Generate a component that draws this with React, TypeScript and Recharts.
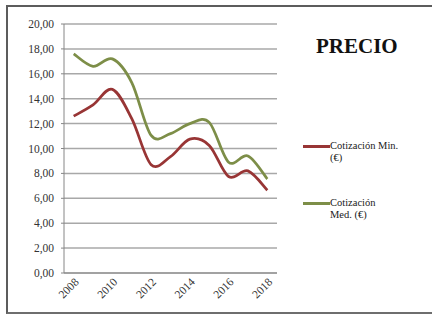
import { LineChart, Line, XAxis, YAxis, CartesianGrid, Legend } from 'recharts';

const years = [2008, 2009, 2010, 2011, 2012, 2013, 2014, 2015, 2016, 2017, 2018];
const minValues = [12.6, 13.5, 14.75, 12.4, 8.7, 9.35, 10.75, 10.25, 7.75, 8.2, 6.65];
const medValues = [17.6, 16.6, 17.2, 15.3, 11.05, 11.2, 12.0, 12.1, 8.9, 9.4, 7.55];
const yTicks = [0, 2, 4, 6, 8, 10, 12, 14, 16, 18, 20];
const labelYears = [2008, 2010, 2012, 2014, 2016, 2018];
const boundaryTicks = [2007.5, 2008.5, 2009.5, 2010.5, 2011.5, 2012.5, 2013.5, 2014.5, 2015.5, 2016.5, 2017.5, 2018.5];
const legendOrder = ['min', 'med'];
const legendLines: Record<string, string[]> = {
  min: ['Cotización Min.', '(€)'],
  med: ['Cotización', 'Med. (€)'],
};

const data = years.map((year, i) => ({ year, min: minValues[i], med: medValues[i] }));

const FONT = '"Liberation Serif", "Times New Roman", serif';

// smooth line like the spreadsheet one (catmull-rom through the points)
const smooth = (context: any) => {
  let pts: number[][] = [];
  return {
    areaStart() {},
    areaEnd() {},
    lineStart() {
      pts = [];
    },
    point(x: number, y: number) {
      pts.push([+x, +y]);
    },
    lineEnd() {
      const n = pts.length;
      if (!n) return;
      context.moveTo(pts[0][0], pts[0][1]);
      for (let i = 0; i < n - 1; i++) {
        const p0 = pts[Math.max(i - 1, 0)];
        const p1 = pts[i];
        const p2 = pts[i + 1];
        const p3 = pts[Math.min(i + 2, n - 1)];
        context.bezierCurveTo(
          p1[0] + (p2[0] - p0[0]) / 6,
          p1[1] + (p2[1] - p0[1]) / 6,
          p2[0] - (p3[0] - p1[0]) / 6,
          p2[1] - (p3[1] - p1[1]) / 6,
          p2[0],
          p2[1]
        );
      }
    },
  };
};

const fmt = (v: number) => v.toFixed(2).replace('.', ',');

const renderLegend = (props: any) => {
  const items = legendOrder
    .map((k) => props.payload.find((p: any) => p.dataKey === k))
    .filter(Boolean);
  return (
    <div style={{ fontFamily: FONT, fontSize: 10.5, color: '#1a1a1a' }}>
      {items.map((entry: any) => (
        <div key={entry.dataKey} style={{ display: 'flex', alignItems: 'flex-start', marginBottom: 33 }}>
          <div style={{ width: 27, height: 3, marginTop: 5, background: entry.color }} />
          <div style={{ lineHeight: '12px', fontFamily: FONT }}>
            {legendLines[entry.dataKey].map((t) => (
              <div key={t} style={{ fontFamily: FONT }}>{t}</div>
            ))}
          </div>
        </div>
      ))}
    </div>
  );
};

export default function App() {
  return (
    <div style={{ position: 'relative', width: 432, height: 315, overflow: 'hidden', background: '#fff' }}>
      <style>{'body{margin:0}'}</style>
      <div
        style={{
          position: 'absolute',
          left: 6,
          top: 5,
          width: 440,
          height: 305,
          borderTop: '2px solid #5c5c5c',
          borderLeft: '2px solid #5c5c5c',
          borderBottom: '2px solid #6e6e6e',
        }}
      />
      <div
        style={{
          position: 'absolute',
          left: 316,
          top: 36,
          fontFamily: FONT,
          fontWeight: 'bold',
          fontSize: 21,
          lineHeight: '21px',
          color: '#111',
        }}
      >
        PRECIO
      </div>
      <LineChart width={432} height={315} data={data} margin={{ top: 24, right: 155, left: 0, bottom: 0 }}>
        <CartesianGrid vertical={false} stroke="#a8a8a8" strokeWidth={1.5} />
        <XAxis
          dataKey="year"
          type="number"
          domain={[2007.5, 2018.5]}
          ticks={boundaryTicks}
          tick={false}
          tickSize={4}
          height={4}
          axisLine={{ stroke: '#868686' }}
          tickLine={{ stroke: '#868686' }}
        />
        <XAxis
          xAxisId="lbl"
          dataKey="year"
          type="number"
          domain={[2007.5, 2018.5]}
          ticks={labelYears}
          interval={0}
          axisLine={false}
          tickLine={false}
          tickSize={0}
          tickMargin={0}
          height={38}
          angle={-45}
          textAnchor="end"
          tick={{ fontSize: 11.5, fill: '#333', fontFamily: FONT }}
        />
        <YAxis
          domain={[0, 20]}
          ticks={yTicks}
          interval={0}
          width={64}
          tickSize={3}
          tickMargin={7}
          tickFormatter={fmt}
          axisLine={{ stroke: '#868686' }}
          tickLine={{ stroke: '#868686' }}
          tick={{ fontSize: 11.5, fill: '#333', fontFamily: FONT }}
        />
        <Line
          dataKey="min"
          name="Cotización Min. (€)"
          type={smooth as any}
          stroke="#983535"
          strokeWidth={2.75}
          dot={false}
          isAnimationActive={false}
        />
        <Line
          dataKey="med"
          name="Cotización Med. (€)"
          type={smooth as any}
          stroke="#7d8e48"
          strokeWidth={2.75}
          dot={false}
          isAnimationActive={false}
        />
        <Legend
          layout="vertical"
          align="center"
          verticalAlign="middle"
          content={renderLegend}
          wrapperStyle={{ left: 303, top: 140, width: 125, fontFamily: FONT }}
        />
      </LineChart>
    </div>
  );
}
